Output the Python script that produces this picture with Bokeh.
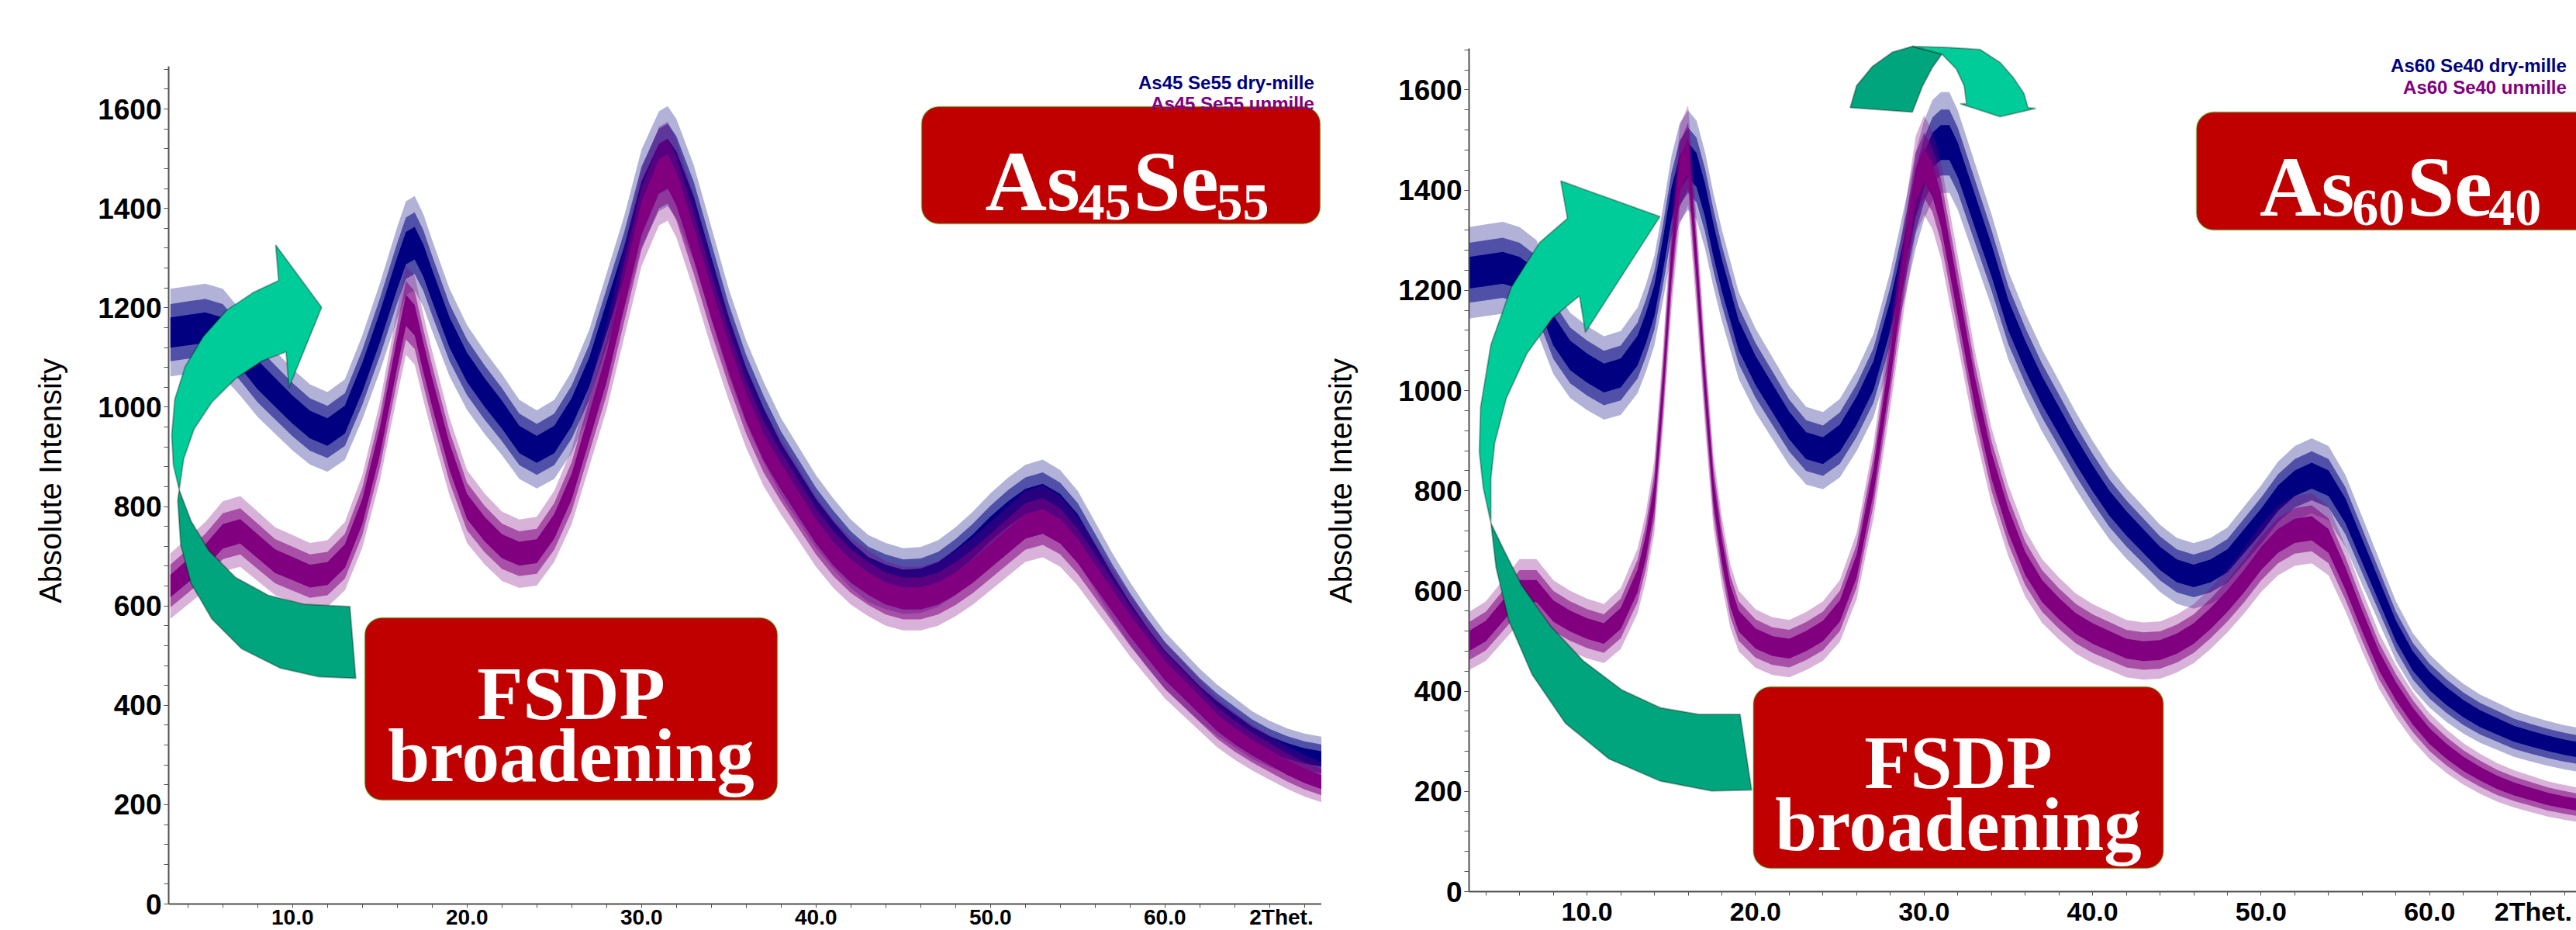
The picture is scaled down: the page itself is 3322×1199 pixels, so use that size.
import numpy as np
from bokeh.plotting import figure
from bokeh.models import (FixedTicker, Label, BoxAnnotation, PolyAnnotation,
                          ColumnDataSource, Range1d, LinearAxis)
from bokeh.layouts import row
from bokeh.embed import file_html
from bokeh.resources import INLINE

# ------------------------------------------------------------------ data
# As45Se55 (left panel) : 2-theta (deg) and mean absolute intensity
L_TWO_THETA = [3, 4, 5, 6, 7, 8, 9, 10, 11, 12, 13, 14, 15, 16, 16.5, 17, 17.5, 18,
               19, 20, 21, 22, 23, 24, 25, 26, 27, 28, 29, 30, 31, 31.5, 32, 33, 34,
               35, 36, 37, 38, 39, 40, 41, 42, 43, 44, 45, 46, 47, 48, 49, 50, 51,
               52, 53, 54, 55, 56, 57, 58, 59, 60, 61, 62, 63, 64, 65, 66, 67, 68, 69]
L_DRY_MILLED = [1150, 1155, 1160, 1150, 1110, 1065, 1030, 995, 965, 950, 975, 1060,
                1160, 1270, 1320, 1330, 1295, 1245, 1150, 1080, 1030, 985, 935, 915,
                935, 990, 1070, 1180, 1290, 1420, 1495, 1505, 1480, 1390, 1270, 1150,
                1050, 970, 900, 845, 790, 745, 705, 675, 660, 650, 652, 665, 690, 720,
                755, 785, 810, 820, 800, 760, 700, 640, 585, 535, 490, 455, 420, 390,
                365, 340, 322, 308, 298, 292]
L_UNMILLED = [640, 670, 700, 740, 750, 720, 690, 675, 660, 665, 700, 790, 930, 1110,
              1195, 1175, 1100, 1030, 900, 800, 755, 720, 705, 710, 760, 840, 960,
              1080, 1230, 1380, 1465, 1475, 1440, 1330, 1210, 1100, 1000, 920, 860,
              805, 750, 705, 670, 645, 625, 615, 615, 625, 645, 670, 700, 730, 760,
              770, 750, 710, 660, 610, 560, 515, 470, 435, 400, 365, 338, 315, 295,
              275, 258, 245]

# As60Se40 (right panel)
R_TWO_THETA = [3, 4, 5, 6, 7, 8, 9, 10, 11, 12, 13, 13.5, 14, 14.5, 15, 15.5, 16,
               16.5, 17, 17.5, 18, 18.5, 19, 20, 21, 22, 23, 24, 25, 26, 27, 28, 29,
               29.5, 30, 30.5, 31, 31.5, 32, 33, 34, 35, 36, 37, 38, 39, 40, 41, 42,
               43, 44, 45, 46, 47, 48, 49, 50, 51, 52, 53, 54, 55, 56, 57, 58, 59, 60,
               61, 62, 63, 64, 65, 66, 67, 68, 69]
R_DRY_MILLED = [1235, 1240, 1245, 1235, 1210, 1120, 1070, 1045, 1025, 1035, 1080,
                1125, 1180, 1270, 1370, 1435, 1460, 1440, 1380, 1300, 1230, 1170,
                1110, 1040, 985, 930, 890, 880, 905, 960, 1030, 1150, 1300, 1380,
                1440, 1480, 1495, 1495, 1460, 1360, 1260, 1150, 1070, 1000, 940, 880,
                825, 775, 735, 700, 665, 640, 630, 640, 660, 700, 740, 785, 815, 830,
                815, 760, 680, 600, 520, 460, 420, 390, 365, 345, 330, 315, 305, 296,
                288, 282]
R_UNMILLED = [500, 520, 560, 600, 600, 560, 540, 525, 515, 545, 620, 690, 790, 1000,
              1250, 1430, 1470, 1250, 1010, 800, 680, 590, 540, 505, 490, 485, 500,
              520, 560, 650, 820, 1050, 1300, 1410, 1450, 1420, 1360, 1270, 1180, 1000,
              850, 740, 655, 600, 565, 535, 515, 500, 485, 480, 482, 495, 515, 545,
              580, 620, 665, 700, 720, 725, 700, 625, 540, 460, 400, 350, 310, 280,
              255, 235, 218, 205, 195, 185, 178, 172]

SERIES_LEFT = ["As45 Se55  dry-mille", "As45 Se55  unmille"]
SERIES_RIGHT = ["As60 Se40  dry-mille", "As60 Se40  unmille"]
Y_TICKS = [0, 200, 400, 600, 800, 1000, 1200, 1400, 1600]
Y_MINOR = list(range(0, 1681, 40))
X_TICKS = [10, 20, 30, 40, 50, 60]
X_TICK_LABELS = ["10.0", "20.0", "30.0", "40.0", "50.0", "60.0"]
X_MINOR = list(range(4, 70, 2))
X_AXIS_NAME = "2Thet."
Y_AXIS_NAME = "Absolute Intensity"

BLUE = "#000080"
PURPLE = "#800080"
RED = "#C00000"
EDGE = "#00CC00"
ARROW_LIGHT = "#00CC99"
ARROW_DARK = "#00A57D"
AXIS_GREY = "#505050"

# ------------------------------------------------------------------ geometry (page px)
W_TOTAL, H = 3322, 1199
FT, FB = 40, H             # common frame top / bottom (frames are aligned in a row)
L = dict(fig_x=0, width=1704, fl=217, x0=2.9, xs=22.5, yax=1165, ys=0.6406, ytop=1686,
         name_px=1652, lab_stand=36, xlab_drop=32, xlab_size="28px")
R = dict(fig_x=1704, width=W_TOTAL - 1704, fl=1885, x0=3.0, xs=21.87, yax=1149, ys=0.646,
         ytop=1683, name_px=3266, lab_stand=49, xlab_drop=44, xlab_size="34px")


def mapper(g):
    def f(px, py):
        return g["x0"] + (px - g["fl"]) / g["xs"], (g["yax"] - py) / g["ys"]
    return f


def style_axis(ax):
    ax.axis_line_color = AXIS_GREY
    ax.axis_line_width = 2
    ax.major_tick_line_color = AXIS_GREY
    ax.minor_tick_line_color = AXIS_GREY
    ax.major_tick_in = 0
    ax.minor_tick_in = 0
    ax.major_label_text_font = "Liberation Sans"
    ax.major_label_text_font_style = "bold"
    ax.major_label_text_color = "black"


def make_fig(g):
    f = mapper(g)
    fr = g["fig_x"] + g["width"]
    x0, y0 = f(g["fl"], FB)
    x1, y1 = f(fr, FT)
    p = figure(width=g["width"], height=H, output_backend="svg", toolbar_location=None,
               x_range=Range1d(x0, x1), y_range=Range1d(y0, y1), x_axis_location="above",
               min_border_left=g["fl"] - g["fig_x"], min_border_right=0,
               min_border_top=FT, min_border_bottom=0)
    p.outline_line_color = None
    p.grid.visible = False
    p.background_fill_color = "white"
    p.border_fill_color = "white"

    # y axis
    ya = p.yaxis[0]
    style_axis(ya)
    ya.ticker = FixedTicker(ticks=Y_TICKS, minor_ticks=Y_MINOR)
    ya.bounds = (0, g["ytop"])
    ya.major_tick_out = 6
    ya.minor_tick_out = 6
    ya.major_label_standoff = 3
    ya.major_label_text_font_size = "37px"
    ya.axis_label = Y_AXIS_NAME
    ya.axis_label_text_font = "Liberation Sans"
    ya.axis_label_text_font_style = "normal"
    ya.axis_label_text_font_size = "40px"
    ya.axis_label_text_color = "black"
    ya.axis_label_standoff = g["lab_stand"]

    # x axis line with its small ticks, drawn at intensity 0
    xa = p.xaxis[0]
    style_axis(xa)
    xa.fixed_location = 0
    xa.ticker = FixedTicker(ticks=[], minor_ticks=X_MINOR)
    xa.major_tick_out = 0
    xa.minor_tick_out = 0
    xa.minor_tick_in = 5

    # x tick labels (+ the instrument's axis name at the end of the axis) under that line
    name_x = f(g["name_px"], 0)[0]
    overrides = dict(zip(X_TICKS, X_TICK_LABELS))
    overrides[name_x] = X_AXIS_NAME
    lab = LinearAxis(fixed_location=0,
                     ticker=FixedTicker(ticks=X_TICKS + [name_x], minor_ticks=[]))
    style_axis(lab)
    lab.axis_line_color = None
    lab.major_tick_line_color = None
    lab.minor_tick_line_color = None
    lab.major_tick_out = 0
    lab.minor_tick_out = 0
    lab.major_label_overrides = overrides
    lab.major_label_standoff = -g["xlab_drop"]
    lab.major_label_text_font_size = g["xlab_size"]
    p.add_layout(lab, "above")
    return p, f


def draw_series(p, x, y, color):
    x = np.asarray(x, float)
    y = np.asarray(y, float)
    s = np.sqrt(y)  # counting-statistics spread around the mean trace
    for k, a in ((2.6, 0.30), (1.7, 0.55), (0.9, 1.0)):
        src = ColumnDataSource(dict(x=x, lo=y - k * s, hi=y + k * s))
        p.varea(x="x", y1="lo", y2="hi", source=src, fill_color=color, fill_alpha=a)


def poly(p, f, pts, color):
    xs, ys = zip(*[f(a, b) for a, b in pts])
    p.add_layout(PolyAnnotation(xs=list(xs), ys=list(ys), fill_color=color, fill_alpha=1.0,
                                line_color="black", line_width=2))


def rbox(p, f, l, t, r, b):
    x0, y0 = f(l, t)
    x1, y1 = f(r, b)
    p.add_layout(BoxAnnotation(left=x0, right=x1, top=y0, bottom=y1, fill_color=RED,
                               fill_alpha=1.0, line_color=EDGE, line_width=2,
                               border_radius=22))


def text(p, f, px, py, s, size, color="white", font="Liberation Serif", align="left",
         style="bold", baseline="alphabetic"):
    x, y = f(px, py)
    p.add_layout(Label(x=x, y=y, text=s, text_font=font, text_font_style=style,
                       text_font_size=size, text_color=color, text_align=align,
                       text_baseline=baseline))


# ------------------------------------------------------------------ left panel
pL, fL = make_fig(L)
draw_series(pL, L_TWO_THETA, L_DRY_MILLED, BLUE)
draw_series(pL, L_TWO_THETA, L_UNMILLED, PURPLE)

rbox(pL, fL, 1188, 137, 1702, 288)
text(pL, fL, 1270, 233, "As", "110px")
text(pL, fL, 1390, 260, "45", "68px")
text(pL, fL, 1461, 233, "Se", "110px")
text(pL, fL, 1568, 260, "55", "68px")
text(pL, fL, 1701, 106, SERIES_LEFT[0], "24px", BLUE, "Liberation Sans", "right")
text(pL, fL, 1701, 133, SERIES_LEFT[1], "24px", PURPLE, "Liberation Sans", "right")

rbox(pL, fL, 470, 796, 1002, 1031)
text(pL, fL, 736, 894, "FSDP", "97px", align="center")
text(pL, fL, 736, 974, "broadening", "97px", align="center")

poly(pL, fL, [(230.6, 631.0), (228.7, 644.4), (232.5, 701.8), (245.9, 751.6),
              (272.7, 797.5), (311.0, 835.8), (360.7, 860.7), (410.5, 872.1),
              (458.3, 874.1), (450.7, 781.4), (391.4, 778.4), (345.4, 766.9),
              (303.3, 743.9), (268.9, 709.5), (245.9, 671.2)], ARROW_DARK)
poly(pL, fL, [(368.4, 453.1), (372.2, 499.0), (414.3, 395.7), (355.0, 315.3),
              (358.8, 361.2), (326.3, 376.5), (291.8, 399.5), (261.2, 433.9),
              (238.3, 472.2), (224.9, 514.3), (221.0, 560.2), (223.0, 598.5),
              (230.6, 631.0), (236.4, 590.9), (249.8, 552.6), (272.7, 518.1),
              (303.3, 487.5), (337.8, 464.6)], ARROW_LIGHT)

# ------------------------------------------------------------------ right panel
pR, fR = make_fig(R)
draw_series(pR, R_TWO_THETA, R_DRY_MILLED, BLUE)
draw_series(pR, R_TWO_THETA, R_UNMILLED, PURPLE)

rbox(pR, fR, 2829, 144, 3361, 296)
text(pR, fR, 2911, 240, "As", "110px")
text(pR, fR, 3031, 267, "60", "68px")
text(pR, fR, 3102, 240, "Se", "110px")
text(pR, fR, 3208, 267, "40", "68px")
text(pR, fR, 3316, 84, SERIES_RIGHT[0], "24px", BLUE, "Liberation Sans", "right")
text(pR, fR, 3316, 112, SERIES_RIGHT[1], "24px", PURPLE, "Liberation Sans", "right")

rbox(pR, fR, 2254, 885, 2786, 1119)
text(pR, fR, 2520, 983, "FSDP", "97px", align="center")
text(pR, fR, 2520, 1063, "broadening", "97px", align="center")

poly(pR, fR, [(1913.3, 673.7), (1920.0, 731.1), (1936.7, 800.0), (1966.7, 868.9),
              (2010.0, 932.0), (2066.7, 977.9), (2133.3, 1006.6), (2200.0, 1019.3),
              (2251.7, 1018.1), (2236.7, 920.5), (2183.3, 920.5), (2133.3, 911.9),
              (2083.3, 889.0), (2033.3, 851.6), (1990.0, 805.7), (1953.3, 754.1),
              (1930.0, 708.1)], ARROW_DARK)
poly(pR, fR, [(2028.3, 380.9), (2036.0, 428.0), (2132.7, 278.7), (2004.0, 232.8),
              (2012.7, 281.0), (1976.7, 312.0), (1940.0, 369.4), (1913.3, 444.1),
              (1900.0, 524.4), (1898.3, 581.8), (1903.3, 627.8), (1913.3, 673.7),
              (1913.3, 616.3), (1918.3, 570.4), (1933.3, 513.0), (1960.0, 455.5),
              (1993.3, 409.6)], ARROW_LIGHT)
# arch arrow above the main peak
poly(pR, fR, [(2379.6, 138.3), (2387.9, 110.0), (2408.6, 85.0), (2434.4, 66.7),
              (2460.3, 59.3), (2498.6, 69.3), (2486.1, 86.7), (2473.7, 110.0),
              (2460.3, 144.0)], ARROW_DARK)
poly(pR, fR, [(2460.3, 59.3), (2506.8, 60.7), (2548.2, 63.3), (2574.1, 80.0),
              (2591.7, 100.0), (2605.1, 120.0), (2610.3, 138.3), (2620.6, 139.3),
              (2574.1, 150.0), (2522.3, 133.3), (2530.6, 133.3), (2527.5, 110.0),
              (2517.2, 88.3), (2498.6, 69.3)], ARROW_LIGHT)

layout = row(pL, pR)
open("out.html", "w").write(file_html(layout, INLINE))
